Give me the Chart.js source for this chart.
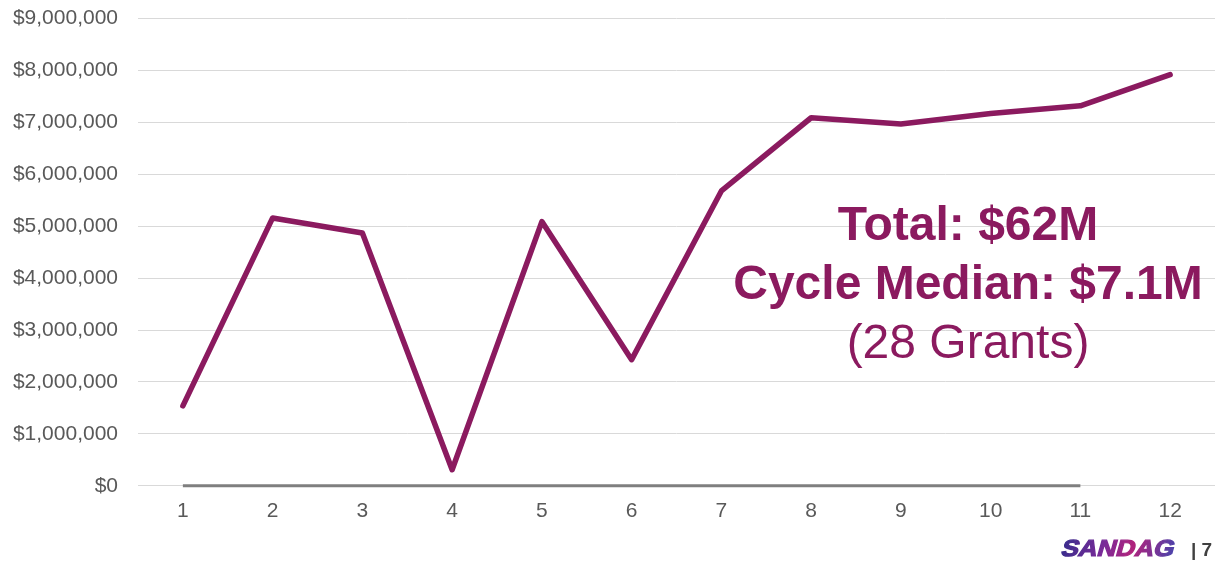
<!DOCTYPE html>
<html>
<head>
<meta charset="utf-8">
<script src="https://cdn.jsdelivr.net/npm/chart.js@4.4.1/dist/chart.umd.min.js"></script>
<style>
  html, body { margin: 0; padding: 0; background: #ffffff; overflow: hidden; }
  #wrap { width: 1225px; height: 575px; position: relative; margin-top: -14px; }
</style>
</head>
<body>
<div id="wrap"><canvas id="grantsChart"></canvas></div>
<script>
// Grant awards per cycle
const cycles = ['1', '2', '3', '4', '5', '6', '7', '8', '9', '10', '11', '12'];
const awardAmounts = [1540000, 5160000, 4870000, 310000, 5090000, 2430000, 5680000, 7090000, 6970000, 7170000, 7320000, 7920000];
const baseline = [0, 0, 0, 0, 0, 0, 0, 0, 0, 0, 0, null];
const yTicks = [0, 1000000, 2000000, 3000000, 4000000, 5000000, 6000000, 7000000, 8000000, 9000000];
const summaryLines = ['Total: $62M', 'Cycle Median: $7.1M', '(28 Grants)'];
const footerLogo = 'SANDAG';
const footerPage = '| 7';

const PLUM = '#8b1a5f';
const FONT = "'Liberation Sans', Arial, sans-serif";
const SHIFT = 14; // canvas sits 14px above the page top

// summary text block and footer
const overlayPlugin = {
  id: 'overlay',
  afterDatasetsDraw(chart) {
    const ctx = chart.ctx;
    ctx.save();
    ctx.translate(0, SHIFT);
    ctx.fillStyle = PLUM;
    ctx.textAlign = 'center';
    ctx.textBaseline = 'middle';
    ctx.font = 'bold 48px ' + FONT;
    ctx.fillText(summaryLines[0], 968, 227);
    ctx.fillText(summaryLines[1], 968, 286);
    ctx.font = '48px ' + FONT;
    ctx.fillText(summaryLines[2], 968, 345);

    // logo
    ctx.save();
    ctx.translate(1060, 556);
    ctx.scale(1.13, 1);
    ctx.transform(1, 0, -0.25, 1, 0, 0);
    const g = ctx.createLinearGradient(0, 0, 104, 0);
    g.addColorStop(0, '#3a2c8c');
    g.addColorStop(0.35, '#7a2a98');
    g.addColorStop(0.6, '#b0227c');
    g.addColorStop(1, '#3f46b0');
    ctx.fillStyle = g;
    ctx.strokeStyle = g;
    ctx.lineWidth = 1.2;
    ctx.textAlign = 'left';
    ctx.textBaseline = 'alphabetic';
    ctx.font = '900 23px ' + FONT;
    ctx.fillText(footerLogo, 0, 0);
    ctx.strokeText(footerLogo, 0, 0);
    ctx.restore();

    ctx.fillStyle = '#404040';
    ctx.textAlign = 'left';
    ctx.textBaseline = 'alphabetic';
    ctx.font = 'bold 19px ' + FONT;
    ctx.fillText(footerPage, 1191, 556);
    ctx.restore();
  }
};

new Chart(document.getElementById('grantsChart').getContext('2d'), {
  type: 'line',
  data: {
    labels: cycles,
    datasets: [
      {
        label: 'Awards',
        data: awardAmounts,
        borderColor: PLUM,
        borderWidth: 5.5,
        borderCapStyle: 'round',
        borderJoinStyle: 'round',
        pointRadius: 0,
        tension: 0,
        fill: false,
        clip: false,
        order: 0
      },
      {
        label: 'Baseline',
        data: baseline,
        borderColor: '#7f7f7f',
        borderWidth: 3,
        pointRadius: 0,
        tension: 0,
        fill: false,
        clip: false,
        order: 1
      }
    ]
  },
  options: {
    responsive: true,
    maintainAspectRatio: false,
    animation: false,
    layout: { padding: { top: 0, right: 10, bottom: 24, left: 0 } },
    plugins: {
      legend: { display: false },
      tooltip: { enabled: false }
    },
    scales: {
      y: {
        min: 0,
        max: 9000000,
        afterFit(scale) { scale.width = 138; },
        afterBuildTicks(scale) { scale.ticks = yTicks.map(v => ({ value: v })); },
        ticks: {
          padding: 20,
          color: '#595959',
          font: { family: FONT, size: 21 },
          callback: v => '$' + v.toLocaleString('en-US')
        },
        grid: { color: '#d9d9d9', lineWidth: 1, drawTicks: false },
        border: { display: false }
      },
      x: {
        offset: true,
        ticks: {
          padding: 13,
          color: '#595959',
          font: { family: FONT, size: 21 }
        },
        grid: { display: false, drawTicks: false },
        border: { display: false }
      }
    }
  },
  plugins: [overlayPlugin]
});
</script>
</body>
</html>
